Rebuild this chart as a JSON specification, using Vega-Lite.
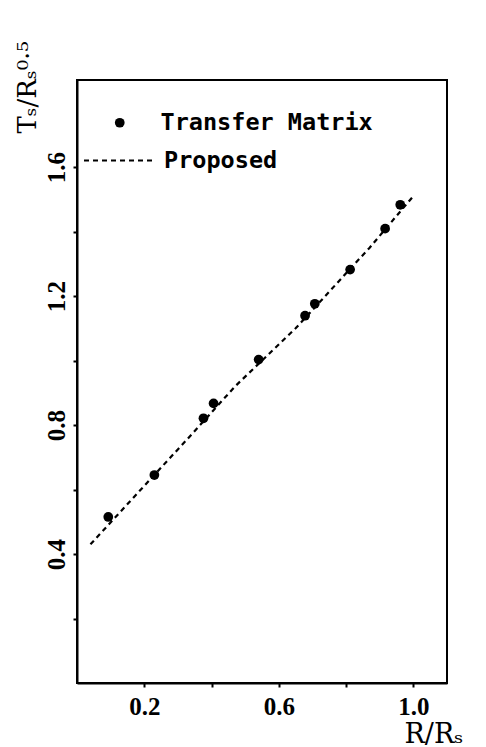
{
  "$schema": "https://vega.github.io/schema/vega-lite/v6.json",
  "width": 370,
  "height": 603,
  "autosize": "none",
  "padding": {"left": 77, "top": 80, "right": 39, "bottom": 64},
  "background": "white",
  "config": {
    "view": {"stroke": "black", "strokeWidth": 2},
    "axis": {
      "domainColor": "black", "domainWidth": 2,
      "tickColor": "black", "tickWidth": 2, "tickSize": 4,
      "grid": false,
      "labelFont": "Liberation Serif", "labelFontWeight": "bold", "labelFontSize": 25, "labelColor": "black",
      "labelFlush": false,
      "titleColor": "black", "titleFont": "DejaVu Serif", "titleFontWeight": "normal"
    }
  },
  "datasets": {
    "tm": [
      {"x": 0.093, "y": 0.515, "series": "Transfer Matrix"},
      {"x": 0.230, "y": 0.645, "series": "Transfer Matrix"},
      {"x": 0.376, "y": 0.821, "series": "Transfer Matrix"},
      {"x": 0.406, "y": 0.867, "series": "Transfer Matrix"},
      {"x": 0.540, "y": 1.003, "series": "Transfer Matrix"},
      {"x": 0.678, "y": 1.139, "series": "Transfer Matrix"},
      {"x": 0.707, "y": 1.176, "series": "Transfer Matrix"},
      {"x": 0.812, "y": 1.282, "series": "Transfer Matrix"},
      {"x": 0.916, "y": 1.409, "series": "Transfer Matrix"},
      {"x": 0.961, "y": 1.483, "series": "Transfer Matrix"}
    ],
    "prop": [
      {"x": 0.04, "y": 0.43, "series": "Proposed"},
      {"x": 0.19, "y": 0.60, "series": "Proposed"},
      {"x": 0.34, "y": 0.77, "series": "Proposed"},
      {"x": 0.47, "y": 0.92, "series": "Proposed"},
      {"x": 0.65, "y": 1.10, "series": "Proposed"},
      {"x": 0.87, "y": 1.35, "series": "Proposed"},
      {"x": 1.00, "y": 1.51, "series": "Proposed"}
    ]
  },
  "layer": [
    {
      "data": {"name": "prop"},
      "mark": {"type": "line", "color": "black", "strokeWidth": 2.2},
      "encoding": {
        "x": {
          "field": "x", "type": "quantitative",
          "scale": {"domain": [0, 1.1], "nice": false, "zero": false},
          "axis": {
            "values": [0.2, 0.4, 0.6, 0.8, 1.0],
            "labelExpr": "round(datum.value*10)%4==2 ? format(datum.value,'.1f') : ''",
            "labelPadding": 7,
            "title": "R/Rₛ",
            "titleFontSize": 27,
            "titleX": 327, "titleY": 59,
            "titleAlign": "left", "titleBaseline": "alphabetic"
          }
        },
        "y": {
          "field": "y", "type": "quantitative",
          "scale": {"domain": [0, 1.87], "nice": false},
          "axis": {
            "values": [0.2, 0.4, 0.6, 0.8, 1.0, 1.2, 1.4, 1.6],
            "labelExpr": "round(datum.value*10)%4==0 ? format(datum.value,'.1f') : ''",
            "labelAngle": -90,
            "labelPadding": 4,
            "title": "Tₛ/Rₛ⁰·⁵",
            "titleFontSize": 26,
            "titleAngle": -90,
            "titleX": -42, "titleY": 53,
            "titleAlign": "left", "titleBaseline": "alphabetic"
          }
        },
        "strokeDash": {
          "field": "series", "type": "nominal",
          "scale": {"range": [[5, 4]]},
          "legend": {
            "orient": "none", "legendX": 6, "legendY": 45,
            "title": null, "padding": 0,
            "labelFont": "DejaVu Sans Mono", "labelFontWeight": "bold", "labelFontSize": 23.5, "labelColor": "black",
            "labelOffset": 10, "labelLimit": 400,
            "symbolType": "stroke", "symbolSize": 4761, "symbolStrokeWidth": 2, "symbolStrokeColor": "black"
          }
        }
      }
    },
    {
      "data": {"name": "tm"},
      "mark": {"type": "point", "filled": true, "color": "black", "size": 95, "opacity": 1},
      "encoding": {
        "x": {"field": "x", "type": "quantitative"},
        "y": {"field": "y", "type": "quantitative"},
        "shape": {
          "field": "series", "type": "nominal",
          "scale": {"range": ["circle"]},
          "legend": {
            "orient": "none", "legendX": 31, "legendY": 31,
            "title": null, "padding": 0,
            "labelFont": "DejaVu Sans Mono", "labelFontWeight": "bold", "labelFontSize": 23.5, "labelColor": "black",
            "labelOffset": 29, "labelLimit": 400,
            "symbolType": "circle", "symbolSize": 95, "symbolFillColor": "black", "symbolStrokeColor": "black", "symbolOpacity": 1
          }
        }
      }
    }
  ]
}
